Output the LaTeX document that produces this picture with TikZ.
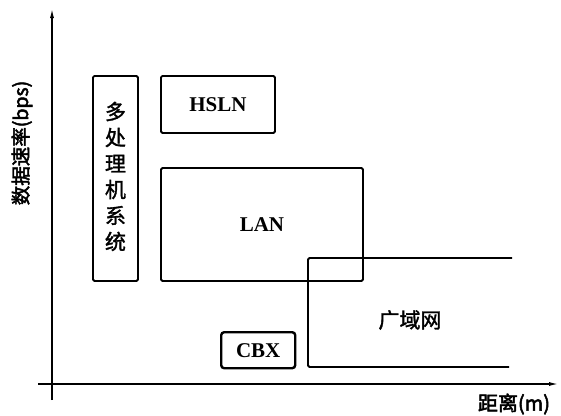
\documentclass[tikz,border=0pt]{standalone}
\usepackage{fontspec}
\setmainfont{Liberation Serif}
\newfontfamily\cjk[FakeBold=2.5]{Noto Sans CJK SC}
\newfontfamily\cjklight[FakeBold=1.5]{Noto Sans CJK SC}
\usepackage{tikz}
\usetikzlibrary{positioning, calc, arrows.meta}
\tikzstyle{Axis} = [
    line width=1.5pt,
    -{Latex[length=10pt, width=4pt]}
]

\begin{document}
\begin{tikzpicture}[
x=1pt, y=-1pt,
box/.style={
    draw,
    line width=1.9pt,
    rounded corners=1.5pt,
    inner sep=0pt,
    anchor=north west
    },
net/.style={font=\bfseries\fontsize{21}{21}\selectfont}
]
\useasboundingbox (0,0) rectangle (561,415);

% axes
\coordinate (o) at (52,384);
\coordinate (ytop) at (52,8);
\coordinate (ybot) at (52,400);
\coordinate (xleft) at (38,384);
\coordinate (xright) at (559,384);
\draw[Axis] (ybot) -- (ytop);
\draw[Axis] (xleft) -- (xright);

\node[rotate=90, font=\cjk\fontsize{19.5}{19.5}\selectfont] (rate) at (22,143) {数据速率(bps)};
\node[font=\cjk\fontsize{20}{20}\selectfont] (dist) at (514,404) {距离(m)};

% boxes
\node[box, minimum width=45pt, minimum height=205pt] (mp) at (92,75) {};
\node[font=\cjklight\fontsize{21}{26}\selectfont, align=center] (mptext) at ($(mp.center)+(0,-2)$)
    {多\\处\\理\\机\\系\\统};

\node[box, minimum width=114pt, minimum height=57pt] (hsln) at (160,75) {};
\node[net] at (hsln.center) {HSLN};

\node[box, minimum width=202pt, minimum height=113pt] (lan) at (160,167) {};
\node[net] at (lan.center) {LAN};

\node[box, line width=2.4pt, rounded corners=3pt, minimum width=74pt, minimum height=36pt] (cbx) at (220,331) {};
\node[net] at (cbx.center) {CBX};

% wide area network (open to the right)
\coordinate (wan1) at (512,258);
\coordinate (wan2) at (308,258);
\coordinate (wan3) at (308,367);
\coordinate (wan4) at (509,367);
\draw[line width=1.9pt, rounded corners=1.5pt] (wan1) -- (wan2) -- (wan3) -- (wan4);
\node[font=\cjklight\fontsize{21}{21}\selectfont] (wan) at (410,320) {广域网};

\end{tikzpicture}
\end{document}
